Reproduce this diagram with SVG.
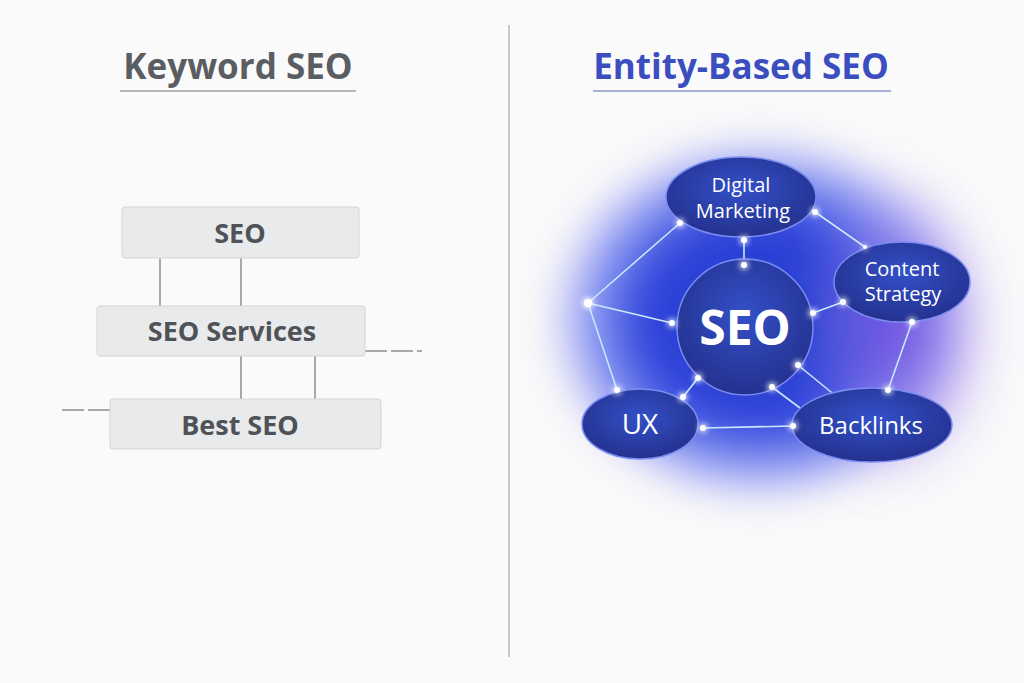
<svg xmlns="http://www.w3.org/2000/svg" width="1024" height="683" viewBox="0 0 1024 683">
<defs>
<style>
.title{font-family:"Open Sans","Liberation Sans",sans-serif;font-weight:bold;font-size:35px;text-anchor:middle}
.box{fill:#e9eaec;stroke:#d3d5d8;stroke-width:1}
.bt{font-family:"Open Sans","Liberation Sans",sans-serif;font-weight:bold;font-size:27px;fill:#4f5257;text-anchor:middle}
.gl{stroke:#8a8d92;stroke-width:1.5;fill:none}
.ell{fill:url(#eg);stroke:#7a8cf0;stroke-width:1.5}
.wt{font-family:"Open Sans","Liberation Sans",sans-serif;fill:#fff;text-anchor:middle}
.ln{stroke:#c9e6ff;stroke-width:1.6;fill:none}
.dot{fill:#fff;filter:url(#dg)}
</style>
<radialGradient id="bg" cx="0.5" cy="0.5" r="0.5">
<stop offset="0" stop-color="#1e35c8"/>
<stop offset="0.55" stop-color="#3147dc"/>
<stop offset="0.8" stop-color="#6a7cf2" stop-opacity="0.7"/>
<stop offset="1" stop-color="#c7b8f5" stop-opacity="0"/>
</radialGradient>
<radialGradient id="pg" cx="0.5" cy="0.5" r="0.5">
<stop offset="0" stop-color="#7a4be0" stop-opacity="0.8"/>
<stop offset="1" stop-color="#b9a0f0" stop-opacity="0"/>
</radialGradient>
<radialGradient id="eg" cx="0.5" cy="0.4" r="0.6">
<stop offset="0" stop-color="#3350c8"/>
<stop offset="1" stop-color="#24318f"/>
</radialGradient>
<filter id="blur" x="-30%" y="-30%" width="160%" height="160%"><feGaussianBlur stdDeviation="18"/></filter>
<filter id="dg" x="-300%" y="-300%" width="700%" height="700%"><feGaussianBlur in="SourceGraphic" stdDeviation="3" result="b"/><feMerge><feMergeNode in="b"/><feMergeNode in="b"/><feMergeNode in="SourceGraphic"/></feMerge></filter>
</defs>
<rect width="1024" height="683" fill="#fafafa"/>
<text class="title" x="238" y="79" fill="#5a5d62">Keyword SEO</text>
<line x1="120" y1="91" x2="356" y2="91" stroke="#9aa0a8" stroke-width="1.5"/>
<text class="title" x="741" y="79" fill="#3a4ec0">Entity-Based SEO</text>
<line x1="593" y1="91" x2="891" y2="91" stroke="#8c96c8" stroke-width="1.5"/>
<line x1="509" y1="25" x2="509" y2="657" stroke="#b5b7ba" stroke-width="1.5"/>
<g id="left-connectors">
<line class="gl" x1="160" y1="258" x2="160" y2="306"/>
<line class="gl" x1="241" y1="258" x2="241" y2="306"/>
<line class="gl" x1="241" y1="356" x2="241" y2="399"/>
<line class="gl" x1="315" y1="356" x2="315" y2="399"/>
<line class="gl" x1="365" y1="351" x2="422" y2="351" stroke-dasharray="22 4"/>
<line class="gl" x1="62" y1="410" x2="110" y2="410" stroke-dasharray="22 4"/>
</g>
<g id="kw-seo"><rect class="box" x="122" y="207" width="237" height="51" rx="3"/><text class="bt" x="240" y="243">SEO</text></g>
<g id="kw-services"><rect class="box" x="97" y="306" width="268" height="50" rx="3"/><text class="bt" x="232" y="341">SEO Services</text></g>
<g id="kw-best"><rect class="box" x="110" y="399" width="271" height="50" rx="3"/><text class="bt" x="240" y="435">Best SEO</text></g>
<ellipse cx="760" cy="320" rx="220" ry="190" fill="url(#bg)" filter="url(#blur)"/>
<ellipse cx="900" cy="330" rx="110" ry="170" fill="url(#pg)" filter="url(#blur)"/>
<g id="connectors">
<path class="ln" d="M680 223 L588 303 L672 323 M588 303 L617 390 M744 240 L744 265 M815 212 L865 247 M843 302 L813 313 M912 322 L888 390 M698 378 L683 397 M703 428 L793 426 M798 365 L837 397 M772 387 L800 408"/>
</g>
<g id="seo"><circle cx="745" cy="327" r="68" class="ell"/><text class="wt" x="745" y="345" font-size="48" font-weight="bold">SEO</text></g>
<g id="digital"><ellipse cx="741" cy="197" rx="75" ry="40" class="ell"/><text class="wt" x="741" y="192" font-size="20">Digital</text><text class="wt" x="743" y="218" font-size="20">Marketing</text></g>
<g id="content"><ellipse cx="902" cy="282" rx="68" ry="40" class="ell"/><text class="wt" x="902" y="276" font-size="20">Content</text><text class="wt" x="903" y="301" font-size="20">Strategy</text></g>
<g id="ux"><ellipse cx="640" cy="424" rx="58" ry="35" class="ell"/><text class="wt" x="640" y="434" font-size="28">UX</text></g>
<g id="backlinks"><ellipse cx="872" cy="425" rx="80" ry="37" class="ell"/><text class="wt" x="871" y="434" font-size="24">Backlinks</text></g>
<g id="dots">
<circle class="dot" cx="680" cy="223" r="3"/><circle class="dot" cx="744" cy="240" r="3"/><circle class="dot" cx="744" cy="265" r="3"/>
<circle class="dot" cx="588" cy="303" r="4"/><circle class="dot" cx="672" cy="323" r="3"/><circle class="dot" cx="815" cy="212" r="3"/>
<circle class="dot" cx="865" cy="247" r="2"/><circle class="dot" cx="843" cy="302" r="3"/><circle class="dot" cx="813" cy="313" r="3"/>
<circle class="dot" cx="912" cy="322" r="3"/><circle class="dot" cx="888" cy="390" r="3"/><circle class="dot" cx="617" cy="390" r="3"/>
<circle class="dot" cx="683" cy="397" r="3"/><circle class="dot" cx="698" cy="378" r="3"/><circle class="dot" cx="703" cy="428" r="3"/>
<circle class="dot" cx="793" cy="426" r="3"/><circle class="dot" cx="798" cy="365" r="3"/><circle class="dot" cx="772" cy="387" r="3"/>
</g>
</svg>
